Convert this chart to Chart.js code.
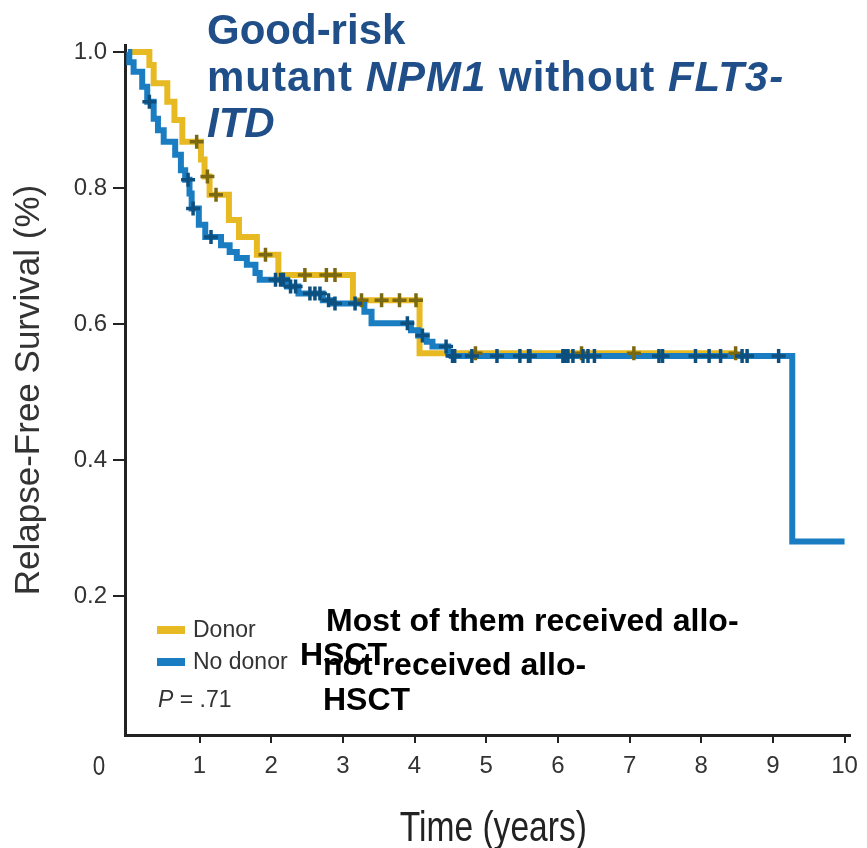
<!DOCTYPE html>
<html>
<head>
<meta charset="utf-8">
<script src="https://cdn.jsdelivr.net/npm/chart.js@4/dist/chart.umd.min.js"></script>
<style>
  html, body { margin: 0; padding: 0; background: #ffffff; }
  #wrap { width: 867px; height: 848px; }
</style>
</head>
<body>
<div id="wrap"><canvas id="km" width="867" height="848"></canvas></div>
<script>
// Kaplan-Meier curves: event times (years) and survival right after each event
const donorTimes = [0, 0.30, 0.36, 0.55, 0.65, 0.76, 1.02, 1.07, 1.14, 1.41, 1.55, 1.80, 2.10, 3.14, 4.07, 8.48];
const donorSurv  = [1.0, 0.981, 0.954, 0.927, 0.900, 0.868, 0.842, 0.817, 0.790, 0.753, 0.728, 0.702, 0.672, 0.635, 0.557, 0.557];
const donorCensor = [0.96, 1.11, 1.23, 1.92, 2.47, 2.77, 2.89, 3.26, 3.54, 3.79, 4.02, 4.85, 6.33, 7.06, 8.48];

const noDonorTimes = [0, 0.02, 0.08, 0.20, 0.27, 0.36, 0.42, 0.50, 0.66, 0.74, 0.80, 0.86, 0.89, 0.99, 1.08, 1.30, 1.42, 1.52, 1.66, 1.78, 1.84, 2.22, 2.38, 2.72, 2.85, 3.30, 3.40, 3.95, 4.05, 4.17, 4.25, 4.47, 4.52, 9.27, 10.0];
const noDonorSurv  = [1.0, 0.985, 0.971, 0.949, 0.927, 0.902, 0.885, 0.868, 0.849, 0.826, 0.812, 0.792, 0.770, 0.746, 0.728, 0.716, 0.706, 0.697, 0.687, 0.675, 0.665, 0.655, 0.645, 0.635, 0.630, 0.618, 0.601, 0.591, 0.583, 0.574, 0.567, 0.559, 0.553, 0.280, 0.280];
const noDonorCensor = [0.30, 0.84, 0.91, 1.16, 2.06, 2.13, 2.17, 2.27, 2.34, 2.54, 2.61, 2.68, 2.80, 2.89, 3.17, 3.90, 4.11, 4.44, 4.53, 4.56, 4.80, 5.15, 5.47, 5.59, 5.61, 6.07, 6.10, 6.14, 6.21, 6.35, 6.42, 6.51, 7.41, 7.46, 7.92, 8.11, 8.27, 8.57, 8.64, 9.08];

const xTicks = [1, 2, 3, 4, 5, 6, 7, 8, 9, 10];
const yTicks = [0.2, 0.4, 0.6, 0.8, 1.0];
const seriesLabels = ['Donor', 'No donor'];
const pValue = '.71';
const xTitle = 'Time (years)';
const yTitle = 'Relapse-Free Survival (%)';

// heading: runs of [text, italic]
const titleLines = [
  [['Good-risk', false]],
  [['mutant ', false], ['NPM1', true], [' without ', false], ['FLT3-', true]],
  [['ITD', true]]
];
const noteLines = [
  ['Most of them received allo-', 326, 631],
  ['HSCT', 300, 665],
  ['not received allo-', 323, 675],
  ['HSCT', 323, 710]
];

const GOLD = '#E7B922';
const BLUE = '#1A7DC2';
const GOLD_MARK = '#7A6812';
const BLUE_MARK = '#0D507F';
const SANS = "'Liberation Sans', Arial, sans-serif";

function stepPoints(times, surv) {
  return times.map((t, i) => ({ x: t, y: surv[i] }));
}
// censored patients sit on the curve level in force at their time
function censorPoints(times, surv, marks) {
  return marks.map(t => {
    let y = surv[0];
    for (let i = 0; i < times.length; i++) if (times[i] <= t) y = surv[i];
    return { x: t, y: y };
  });
}

// narrow lettering: text squeezed horizontally around its centre
function narrowText(ctx, txt, cx, y, squeeze) {
  ctx.save();
  ctx.translate(cx, y);
  ctx.scale(squeeze, 1);
  ctx.textAlign = 'center';
  ctx.fillText(txt, 0, 0);
  ctx.restore();
}

const overlayText = {
  id: 'overlayText',
  afterDraw(chart) {
    const ctx = chart.ctx;
    const xs = chart.scales.x;
    const area = chart.chartArea;
    ctx.save();

    // heading with italic gene names
    ctx.fillStyle = '#1F4E89';
    ctx.textBaseline = 'alphabetic';
    ctx.textAlign = 'left';
    const baselines = [44, 91, 137];
    const spacing = ['0px', '1px', '0px'];
    titleLines.forEach((line, li) => {
      let x = 207;
      ctx.letterSpacing = spacing[li];
      line.forEach(([txt, ital]) => {
        ctx.font = (ital ? 'italic ' : '') + 'bold 42px ' + SANS;
        ctx.fillText(txt, x, baselines[li]);
        x += ctx.measureText(txt).width;
      });
    });
    ctx.letterSpacing = '0px';

    // legend
    const ds = chart.data.datasets;
    ctx.font = '23px ' + SANS;
    ctx.textBaseline = 'middle';
    [0, 1].forEach((k, i) => {
      const cy = 630 + i * 32;
      ctx.fillStyle = ds[k].borderColor;
      ctx.fillRect(157, cy - 4, 28, 8);
      ctx.fillStyle = '#333';
      ctx.fillText(seriesLabels[k], 193, cy + 1);
    });
    ctx.font = 'italic 23px ' + SANS;
    ctx.fillText('P', 158, 701);
    const pw = ctx.measureText('P').width;
    ctx.font = '23px ' + SANS;
    ctx.fillText(' = ' + pValue, 158 + pw, 701);

    // notes
    ctx.fillStyle = '#000';
    ctx.textBaseline = 'alphabetic';
    ctx.font = 'bold 32px ' + SANS;
    noteLines.forEach(([txt, x, y]) => ctx.fillText(txt, x, y));

    // origin label and title of the time axis
    ctx.fillStyle = '#333';
    ctx.font = '28px ' + SANS;
    narrowText(ctx, '0', xs.getPixelForValue(0) - 29, xs.top + 40, 0.8);
    ctx.fillStyle = '#222';
    ctx.font = '42px ' + SANS;
    narrowText(ctx, xTitle, (area.left + area.right) / 2 + 6, 841, 0.8);
    ctx.restore();
  }
};

new Chart(document.getElementById('km').getContext('2d'), {
  type: 'line',
  data: {
    datasets: [
      { label: seriesLabels[0], data: stepPoints(donorTimes, donorSurv), borderColor: GOLD, backgroundColor: GOLD,
        borderWidth: 6, stepped: 'before', pointRadius: 0, fill: false, order: 3 },
      { label: seriesLabels[1], data: stepPoints(noDonorTimes, noDonorSurv), borderColor: BLUE, backgroundColor: BLUE,
        borderWidth: 6, stepped: 'before', pointRadius: 0, fill: false, order: 2 },
      { label: seriesLabels[0] + ' censored', data: censorPoints(donorTimes, donorSurv, donorCensor), showLine: false,
        pointStyle: 'cross', pointRadius: 7, pointBorderWidth: 3.5, pointBorderColor: GOLD_MARK, order: 1 },
      { label: seriesLabels[1] + ' censored', data: censorPoints(noDonorTimes, noDonorSurv, noDonorCensor), showLine: false,
        pointStyle: 'cross', pointRadius: 7, pointBorderWidth: 3.5, pointBorderColor: BLUE_MARK, order: 0 }
    ]
  },
  options: {
    responsive: false,
    animation: false,
    devicePixelRatio: 1,
    layout: { padding: { top: 45, right: 12, left: 0, bottom: 0 } },
    plugins: { legend: { display: false }, tooltip: { enabled: false } },
    scales: {
      x: {
        type: 'linear', min: -0.04, max: 10.07,
        afterBuildTicks: s => { s.ticks = xTicks.map(v => ({ value: v })); },
        afterFit: s => { s.height = 113; },
        border: { display: true, color: '#222', width: 3 },
        grid: { drawOnChartArea: false, drawTicks: true, tickLength: 8, color: '#222', lineWidth: 2 },
        ticks: { color: '#333', font: { family: SANS, size: 24 }, padding: 9, maxRotation: 0, autoSkip: false },
        title: { display: false, text: xTitle }
      },
      y: {
        min: -0.0044, max: 1.0103,
        afterBuildTicks: s => { s.ticks = yTicks.map(v => ({ value: v })); },
        afterFit: s => { s.width = 125; },
        border: { display: true, color: '#222', width: 3 },
        grid: { drawOnChartArea: false, drawTicks: true, tickLength: 12, color: '#222', lineWidth: 2 },
        ticks: { color: '#333', font: { family: SANS, size: 24 }, padding: 6, callback: v => v.toFixed(1) },
        title: { display: true, text: yTitle, color: '#333', font: { family: SANS, size: 35, lineHeight: 1 },
                 padding: { top: 12, bottom: 0 } }
      }
    }
  },
  plugins: [overlayText]
});
</script>
</body>
</html>
